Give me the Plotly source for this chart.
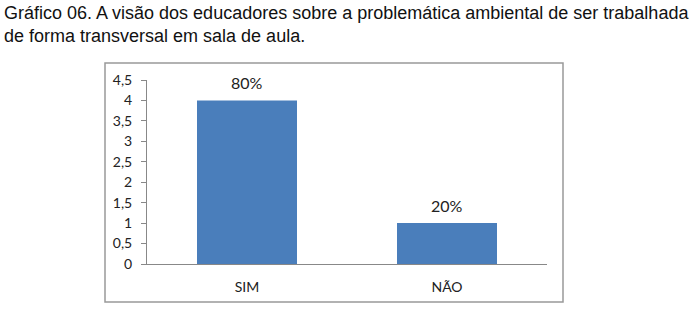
import plotly.graph_objects as go

categories = ["SIM", "NÃO"]
values = [4, 1]
labels = ["80%", "20%"]
tick_vals = [0, 0.5, 1, 1.5, 2, 2.5, 3, 3.5, 4, 4.5]
tick_text = ["0", "0,5", "1", "1,5", "2", "2,5", "3", "3,5", "4", "4,5"]
title_text = ("Gráfico 06. A visão dos educadores sobre a problemática ambiental de ser trabalhada"
              "<br>de forma transversal em sala de aula.")

fig = go.Figure(go.Bar(
    x=categories, y=values,
    marker=dict(color="#4A7EBB", line=dict(width=0)),
    width=0.5,
))

annotations = [dict(text=title_text, xref="paper", yref="paper",
                    x=-0.3625, y=1.43, xanchor="left", yanchor="top",
                    align="left", showarrow=False,
                    font=dict(family="Liberation Sans, Arial", size=18, color="#111"))]
for c, v, t in zip(categories, values, labels):
    annotations.append(dict(x=c, y=v, text=t, xref="x", yref="y", showarrow=False,
                            yanchor="bottom", yshift=6,
                            font=dict(family="Lato, Open Sans, sans-serif", size=16, color="#222")))

fig.update_layout(
    width=698, height=327,
    margin=dict(l=147, r=151, t=80, b=63),
    plot_bgcolor="white", paper_bgcolor="white",
    showlegend=False,
    font=dict(family="Lato, Open Sans, sans-serif", size=14, color="#222"),
    xaxis=dict(showline=True, linecolor="#888", linewidth=1, ticks="",
               tickfont=dict(size=14), showgrid=False, range=[-0.5, 1.5],
               ticklabelstandoff=10),
    yaxis=dict(range=[0, 4.5], tickvals=tick_vals, ticktext=tick_text,
               showline=True, linecolor="#888", linewidth=1,
               ticks="outside", ticklen=5, tickcolor="#888",
               showgrid=False, zeroline=False, tickfont=dict(size=14),
               ticklabelstandoff=6),
    shapes=[dict(type="rect", xref="paper", yref="paper",
                 x0=-0.105, x1=1.04, y0=-0.2065, y1=1.092,
                 line=dict(color="#999", width=1.5))],
    annotations=annotations,
)

fig.write_html("out.html")
